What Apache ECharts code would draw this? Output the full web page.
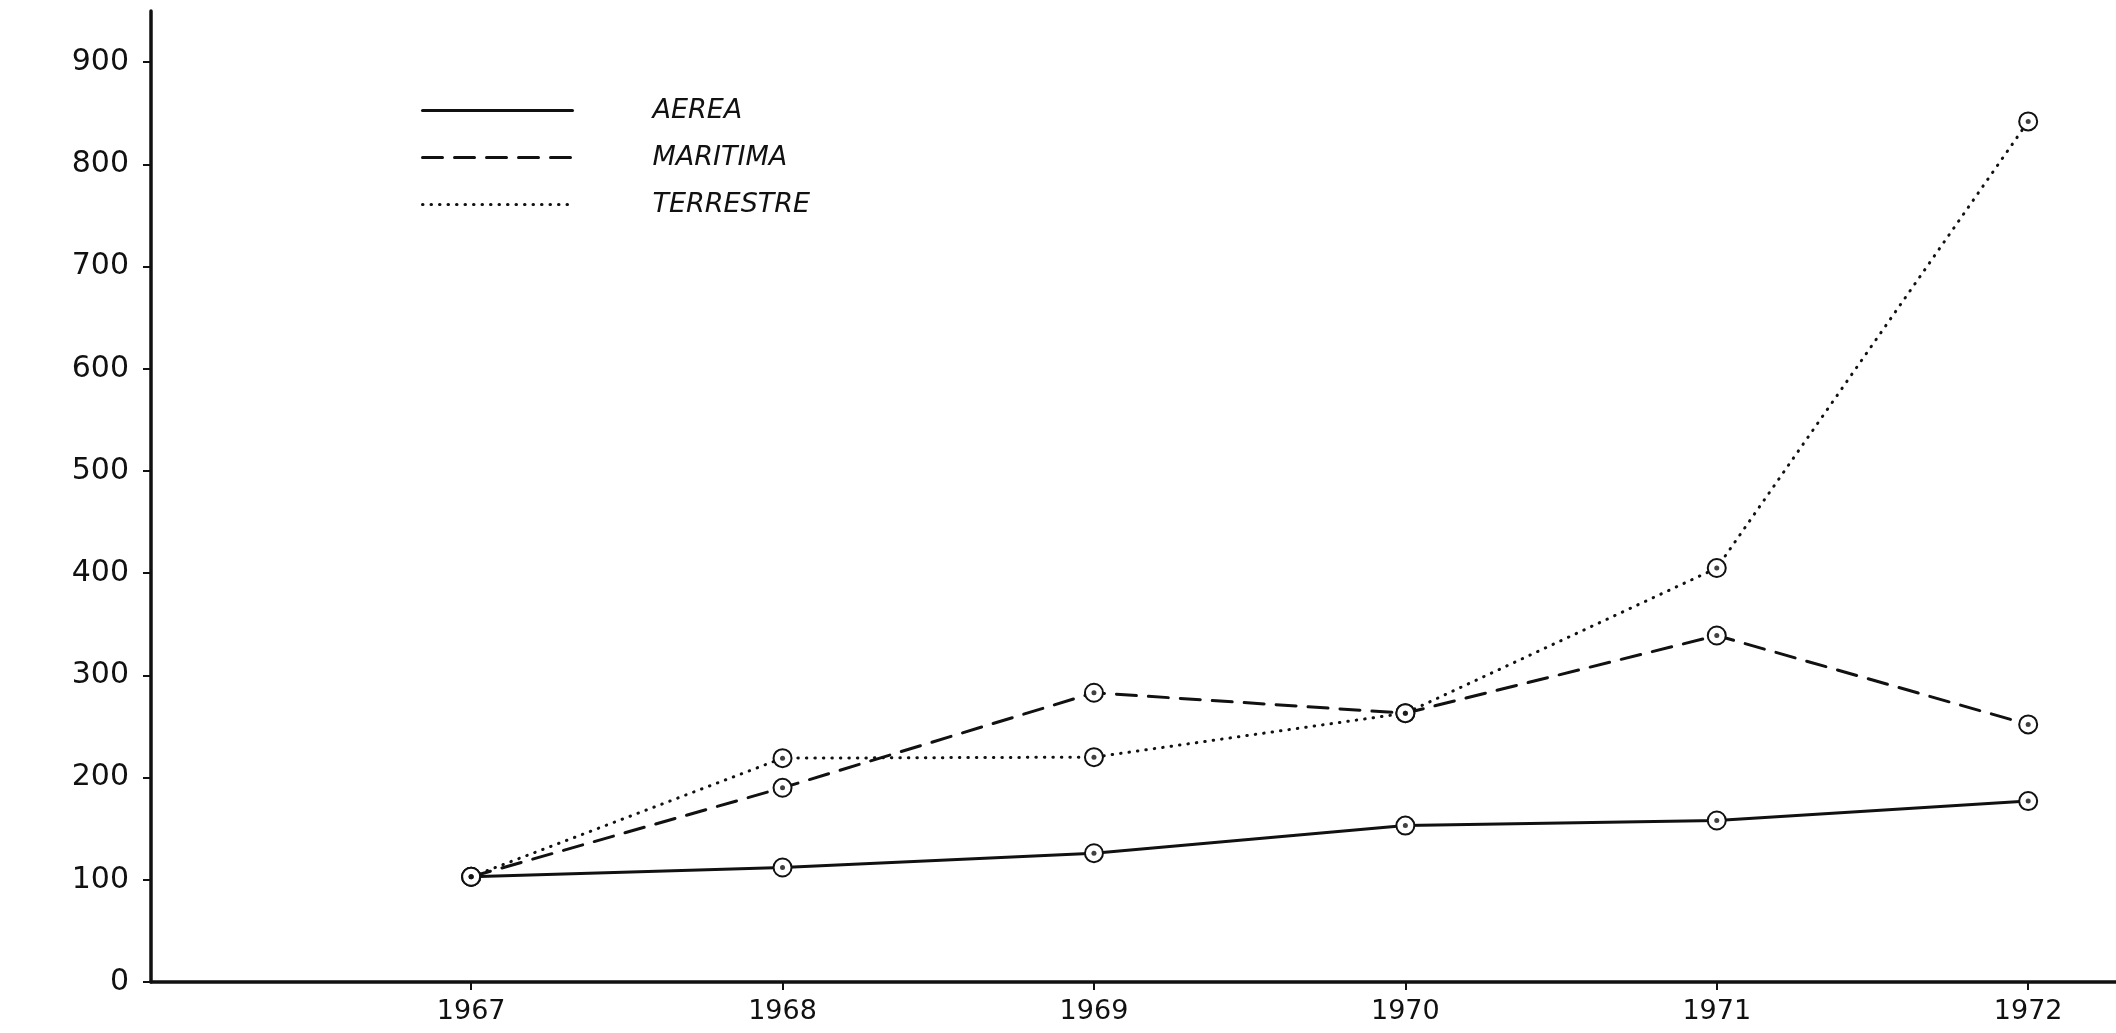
<!DOCTYPE html>
<html>
<head>
<meta charset="utf-8">
<script src="https://cdn.jsdelivr.net/npm/echarts@6/dist/echarts.min.js"></script>
<style>
    html, body { margin: 0; padding: 0; background: #fff; }
    #main { width: 2116px; height: 1033px; }
</style>
</head>
<body>
<div id="main"></div>
<script>
    var years = [1967, 1968, 1969, 1970, 1971, 1972];
    var yTicks = [0, 100, 200, 300, 400, 500, 600, 700, 800, 900];
    var aerea = [103, 112, 126, 153, 158, 177];
    var maritima = [103, 190, 283, 263, 339, 252];
    var terrestre = [103, 219, 220, 263, 405, 842];
    var seriesNames = ['AEREA', 'MARITIMA', 'TERRESTRE'];

    var ink = '#111';

    function pairs(values) {
        return values.map(function (v, i) {
            return [years[i], v];
        });
    }

    // puntini al centro dei cerchi
    var dots = [];
    [aerea, maritima, terrestre].forEach(function (arr) {
        dots = dots.concat(pairs(arr));
    });

    function lineSeries(name, values, type) {
        return {
            name: name,
            type: 'line',
            data: pairs(values),
            symbol: 'emptyCircle',
            symbolSize: 18,
            itemStyle: { color: ink, borderWidth: 2.2 },
            lineStyle: { color: ink, width: 3, type: type, cap: 'round' },
            animation: false
        };
    }

    var myChart = echarts.init(document.getElementById('main'));
    var option = {
        backgroundColor: '#fff',
        grid: { left: 151, right: 0, top: 11, bottom: 51 },
        legend: {
            data: seriesNames,
            orient: 'vertical',
            left: 416,
            top: 92,
            itemWidth: 150,
            itemHeight: 14,
            itemGap: 20,
            itemStyle: { opacity: 0 },
            lineStyle: { width: 3 },
            textStyle: {
                color: ink,
                fontFamily: 'DejaVu Sans',
                fontStyle: 'italic',
                fontSize: 27,
                padding: [0, 0, 0, 75]
            }
        },
        xAxis: {
            type: 'value',
            min: 1965.972,
            max: 1972.282,
            splitLine: { show: false },
            axisLine: { lineStyle: { color: ink, width: 3.5 } },
            axisTick: { customValues: years, length: 8, lineStyle: { color: ink, width: 2 } },
            axisLabel: {
                customValues: years,
                color: ink,
                fontFamily: 'DejaVu Sans',
                fontSize: 27,
                margin: 16,
                formatter: function (v) { return String(v); }
            }
        },
        yAxis: {
            type: 'value',
            min: 0,
            max: 950,
            splitLine: { show: false },
            axisLine: { show: true, lineStyle: { color: ink, width: 3.5 } },
            axisTick: { show: true, customValues: yTicks, length: 8, lineStyle: { color: ink, width: 2 } },
            axisLabel: {
                customValues: yTicks,
                color: ink,
                fontFamily: 'DejaVu Sans',
                fontSize: 30,
                margin: 22
            }
        },
        series: [
            lineSeries('AEREA', aerea, 'solid'),
            lineSeries('MARITIMA', maritima, [20, 12]),
            lineSeries('TERRESTRE', terrestre, [0.5, 8]),
            {
                type: 'scatter',
                data: dots,
                symbol: 'circle',
                symbolSize: 5,
                itemStyle: { color: ink },
                z: 10,
                silent: true,
                animation: false
            }
        ]
    };
    myChart.setOption(option);
</script>
</body>
</html>
